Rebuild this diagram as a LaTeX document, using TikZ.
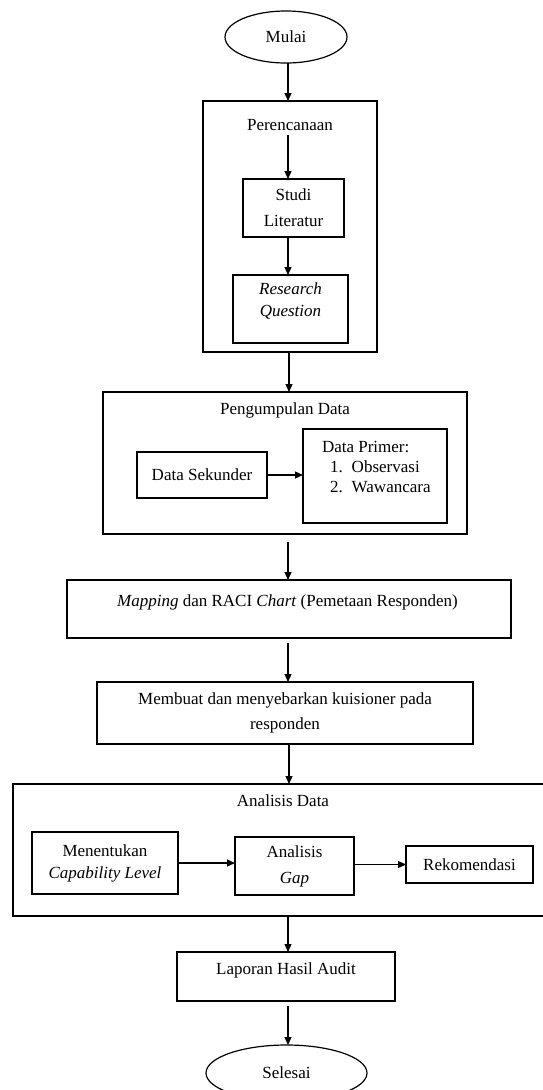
\documentclass[tikz,border=0pt]{standalone}
\usepackage{fontspec}
\setmainfont{Liberation Serif}
\usetikzlibrary{arrows.meta,shapes.geometric}
\begin{document}
\begin{tikzpicture}[x=1pt,y=-1pt,
  every node/.style={font=\fontsize{17}{21}\selectfont, inner sep=0pt, outer sep=0pt},
  bx/.style 2 args={draw, line width=1.3pt, rectangle, minimum width=#1pt, minimum height=#2pt, align=center},
  ell/.style 2 args={draw, line width=1.2pt, ellipse, minimum width=#1pt, minimum height=#2pt},
  arr/.style={line width=1.2pt, -{Triangle[length=8pt,width=7pt]}}
]
\useasboundingbox (0,0) rectangle (542,1090);

% start
\node[ell={122}{52}] (mulai) at (286,37) {Mulai};

% Perencanaan
\node[bx={174}{251}] (per) at (290,226.5) {};
\node (pert) at (290,125) {Perencanaan};
\node[bx={101}{58}] (studi) at (293.5,208) {Studi\\[5pt]Literatur};
\node[bx={115}{68}] (rq) at (290.5,309) {};
\node[align=center] (rqt) at (290.5,301) {\itshape Research\\[1pt]\itshape Question};

% Pengumpulan Data
\node[bx={364}{142}] (peng) at (285,463) {};
\node (pengt) at (285,410) {Pengumpulan Data};
\node[bx={130}{46}] (sek) at (202,475) {Data Sekunder};
\node[bx={144}{94}] (prim) at (375,476) {};
\node[anchor=west] (prim1) at (322,447) {Data Primer:};
\node[anchor=west] (prim2) at (330,467) {1.\hspace{9pt}Observasi};
\node[anchor=west] (prim3) at (330,487) {2.\hspace{9pt}Wawancara};

% Mapping
\node[bx={444}{58}] (map) at (289,609) {};
\node (mapt) at (287.5,602) {\textit{Mapping} dan  RACI \textit{Chart} (Pemetaan Responden)};

% Membuat
\node[bx={376}{62}] (mem) at (285,713) {Membuat dan menyebarkan kuisioner pada\\[4pt]responden};

% Analisis Data
\node[bx={532}{132}] (ana) at (279,850) {};
\node (anat) at (283,801) {Analisis Data};
\node[bx={146}{62}] (cap) at (105,863) {Menentukan\\[1pt]\textit{Capability Level}};
\node[bx={119}{58}] (gap) at (294.5,866) {Analisis\\[5pt]\textit{Gap}};
\node[bx={127}{37}] (rek) at (469.5,864.5) {Rekomendasi};

% Laporan
\node[bx={218}{49}] (lap) at (286,976.5) {};
\node (lapt) at (286,970) {Laporan Hasil Audit};

% end
\node[ell={161}{56}] (sel) at (286.5,1073) {Selesai};

% connectors
\draw[arr] (mulai.south -| 288,0) -- (288,0 |- per.north);
\draw[arr] ([yshift=-4pt]pert.south -| 288,0) -- (288,0 |- studi.north);
\draw[arr] (studi.south -| 288,0) -- (288,0 |- rq.north);
\draw[arr] (per.south -| 289,0) -- (289,0 |- peng.north);
\draw[arr] (sek.east) -- (prim.west |- sek.east);
\draw[arr] ([yshift=-8pt]peng.south -| 288,0) -- (288,0 |- map.north);
\draw[arr] ([yshift=-5pt]map.south -| 288,0) -- (288,0 |- mem.north);
\draw[arr] (mem.south -| 289,0) -- (289,0 |- ana.north);
\draw[arr] (cap.east) -- (gap.west |- cap.east);
\draw[arr] (gap.east |- rek.west) -- (rek.west);
\draw[arr] (ana.south -| 288,0) -- (288,0 |- lap.north);
\draw[arr] ([yshift=-5pt]lap.south -| 288,0) -- (288,0 |- sel.north);
\end{tikzpicture}
\end{document}
